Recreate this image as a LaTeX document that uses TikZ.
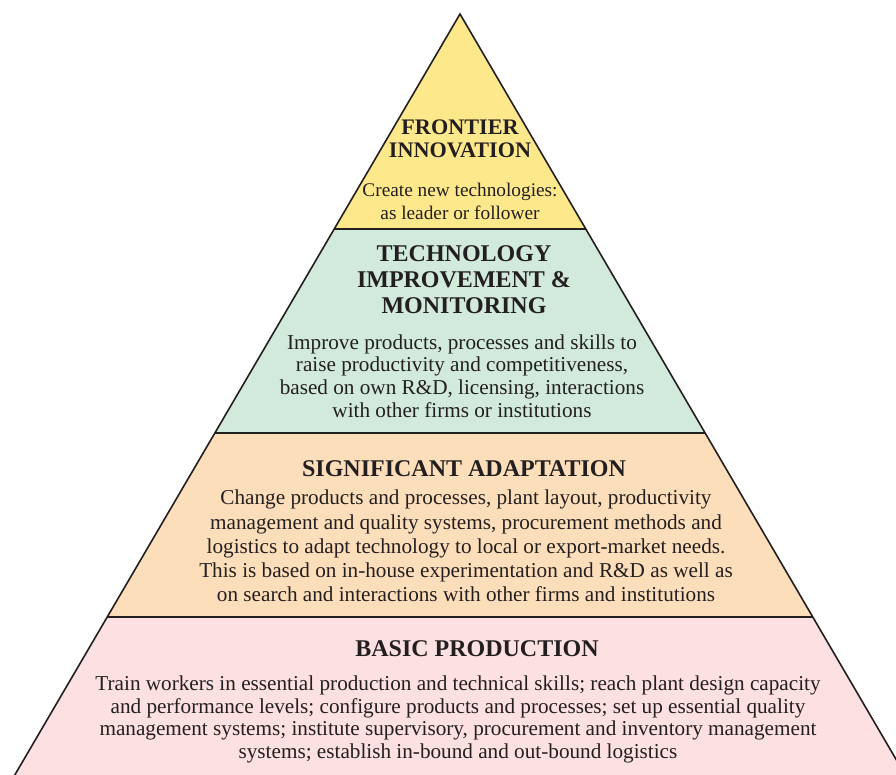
\documentclass[tikz,border=0pt]{standalone}
\usepackage{fontspec}
\setmainfont{Liberation Serif}
\usetikzlibrary{positioning}

\definecolor{ink}{RGB}{35,31,32}
\definecolor{frontier}{RGB}{254,232,140}
\definecolor{improve}{RGB}{210,234,220}
\definecolor{adapt}{RGB}{253,222,186}
\definecolor{basic}{RGB}{253,224,226}

\tikzset{
  title/.style={align=center, text=ink, inner sep=0pt, font=\fontsize{24}{26}\selectfont\bfseries},
  body/.style={align=center, text=ink, inner sep=0pt, font=\fontsize{21.2}{22.7}\selectfont},
}

\begin{document}
\begin{tikzpicture}[x=1pt,y=-1pt]
\useasboundingbox (0,0) rectangle (896,774);
\clip (0,0) rectangle (896,774);

% corners of the levels
\coordinate (apex) at (460,14);
\coordinate (L1) at (334.2,229); \coordinate (R1) at (585.8,229);
\coordinate (L2) at (214.9,433); \coordinate (R2) at (705.1,433);
\coordinate (L3) at (107.2,617); \coordinate (R3) at (812.8,617);
\coordinate (L4) at (6,790);     \coordinate (R4) at (914,790);

\fill[frontier] (apex) -- (R1) -- (L1) -- cycle;
\fill[improve] (L1) -- (R1) -- (R2) -- (L2) -- cycle;
\fill[adapt] (L2) -- (R2) -- (R3) -- (L3) -- cycle;
\fill[basic] (L3) -- (R3) -- (R4) -- (L4) -- cycle;

\draw[ink, line width=1.6pt, line join=miter] (L4) -- (apex) -- (R4);
\draw[ink, line width=1.6pt] (L1) -- (R1);
\draw[ink, line width=1.6pt] (L2) -- (R2);
\draw[ink, line width=1.6pt] (L3) -- (R3);

\node[title, font=\fontsize{22.2}{23.5}\selectfont\bfseries] (frontierT) at (460,139) {FRONTIER\\INNOVATION};
\node[body, font=\fontsize{19.3}{23}\selectfont] (frontierB) at (460,201) {Create new technologies:\\as leader or follower};

\node[title] (improveT) at (464,279.5) {TECHNOLOGY\\IMPROVEMENT \&\\MONITORING};
\node[body] (improveB) at (462,376) {Improve products, processes and skills to\\raise productivity and competitiveness,\\based on own R\&D, licensing, interactions\\with other firms or institutions};

\node[title] (adaptT) at (464,469) {SIGNIFICANT ADAPTATION};
\node[body, font=\fontsize{21.2}{24.2}\selectfont] (adaptB) at (466,546) {Change products and processes, plant layout, productivity\\management and quality systems, procurement methods and\\logistics to adapt technology to local or export-market needs.\\This is based on in-house experimentation and R\&D as well as\\on search and interactions with other firms and institutions};

\node[title] (basicT) at (477,649) {BASIC PRODUCTION};
\node[body] (basicB) at (458,719.5) {Train workers in essential production and technical skills; reach plant design capacity\\and performance levels; configure products and processes; set up essential quality\\management systems; institute supervisory, procurement and inventory management\\systems; establish in-bound and out-bound logistics};

\end{tikzpicture}
\end{document}
